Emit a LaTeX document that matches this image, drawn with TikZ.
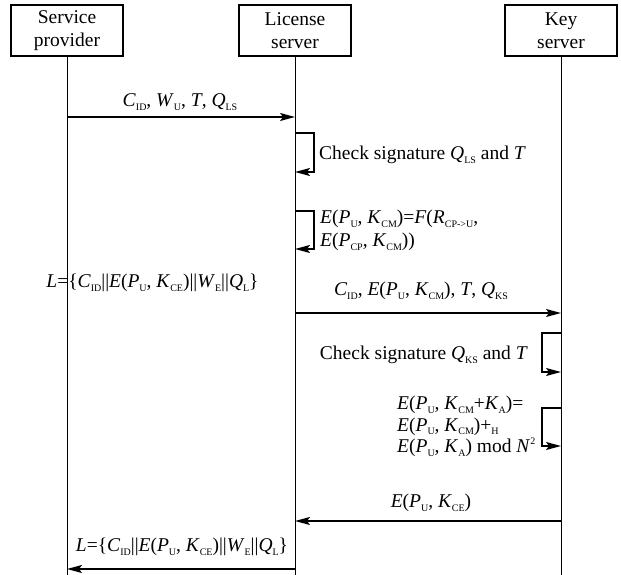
\documentclass[tikz,border=0pt]{standalone}
\usepackage{fontspec}
\setmainfont{Liberation Serif}
\usetikzlibrary{arrows.meta}
\newcommand\sbs[1]{\raisebox{-0.4ex}{\fontsize{10}{10}\selectfont #1}}
\newcommand\spp[1]{\raisebox{0.9ex}{\fontsize{10}{10}\selectfont #1}}
\newcommand\vi[1]{\textit{#1}}
\begin{document}
\begin{tikzpicture}[x=1pt,y=-1pt, font=\fontsize{19.5}{23}\selectfont,
  actor/.style={draw, line width=1.4pt, minimum width=112pt, minimum height=51pt, align=center, inner sep=0pt},
  life/.style={line width=1pt},
  msg/.style={line width=1.4pt, -{Stealth[length=15pt,width=8pt,inset=3pt]}},
  lbl/.style={inner sep=0pt, anchor=center}]
\useasboundingbox (0,0) rectangle (621,575);
% actors
\node[actor] (sp) at (67,30.5) {Service\\provider};
\node[actor] (ls) at (295,30.5) {License\\server};
\node[actor] (ks) at (561,30.5) {Key\\server};
\coordinate (spE) at (67,575);
\coordinate (lsE) at (295,575);
\coordinate (ksE) at (561,575);
\draw[life] (sp.south) -- (spE);
\draw[life] (ls.south) -- (lsE);
\draw[life] (ks.south) -- (ksE);
% message 1
\coordinate (m1a) at (67,117);
\coordinate (m1b) at (295,117);
\draw[msg] (m1a) -- (m1b);
\node[lbl] (t1) at (180,102) {\vi{C}\sbs{ID}, \vi{W}\sbs{U}, \vi{T}, \vi{Q}\sbs{LS}};
% loop 1
\coordinate (a1) at (295,133);
\coordinate (b1) at (295,172);
\draw[msg] (a1) -- ++(19,0) |- (b1);
\node[lbl, anchor=west] (t2) at (319,155) {Check signature \vi{Q}\sbs{LS} and \vi{T}};
% loop 2
\coordinate (a2) at (295,211);
\coordinate (b2) at (295,249);
\draw[msg] (a2) -- ++(19,0) |- (b2);
\node[lbl, anchor=west, align=left] (t3) at (320,230.5) {\vi{E}(\vi{P}\sbs{U}, \vi{K}\sbs{CM})=\vi{F}(\vi{R}\sbs{CP->U},\\\vi{E}(\vi{P}\sbs{CP}, \vi{K}\sbs{CM}))};
% license
\node[lbl] (t4) at (152.5,283) {\vi{L}=\{\vi{C}\sbs{ID}||\vi{E}(\vi{P}\sbs{U}, \vi{K}\sbs{CE})||\vi{W}\sbs{E}||\vi{Q}\sbs{L}\}};
% message 2
\coordinate (m2a) at (295,313);
\coordinate (m2b) at (561,313);
\draw[msg] (m2a) -- (m2b);
\node[lbl] (t5) at (421,291) {\vi{C}\sbs{ID}, \vi{E}(\vi{P}\sbs{U}, \vi{K}\sbs{CM}), \vi{T}, \vi{Q}\sbs{KS}};
% loop 3
\coordinate (a3) at (561,333);
\coordinate (b3) at (561,372);
\draw[msg] (a3) -- ++(-19,0) |- (b3);
\node[lbl, anchor=east] (t6) at (528,355) {Check signature \vi{Q}\sbs{KS} and \vi{T}};
% loop 4
\coordinate (a4) at (561,408);
\coordinate (b4) at (561,446);
\draw[msg] (a4) -- ++(-19,0) |- (b4);
\node[lbl, anchor=west, align=left, font=\fontsize{19.5}{21.5}\selectfont] (t7) at (397,426.5) {\vi{E}(\vi{P}\sbs{U}, \vi{K}\sbs{CM}+\vi{K}\sbs{A})=\\\vi{E}(\vi{P}\sbs{U}, \vi{K}\sbs{CM})+\sbs{H}\\\vi{E}(\vi{P}\sbs{U}, \vi{K}\sbs{A}) mod \vi{N}\spp{2}};
% message 3
\coordinate (m3a) at (561,521);
\coordinate (m3b) at (295,521);
\draw[msg] (m3a) -- (m3b);
\node[lbl] (t8) at (431,503) {\vi{E}(\vi{P}\sbs{U}, \vi{K}\sbs{CE})};
% message 4
\coordinate (m4a) at (295,569);
\coordinate (m4b) at (67,569);
\draw[msg] (m4a) -- (m4b);
\node[lbl] (t9) at (182,547) {\vi{L}=\{\vi{C}\sbs{ID}||\vi{E}(\vi{P}\sbs{U}, \vi{K}\sbs{CE})||\vi{W}\sbs{E}||\vi{Q}\sbs{L}\}};
\end{tikzpicture}
\end{document}
